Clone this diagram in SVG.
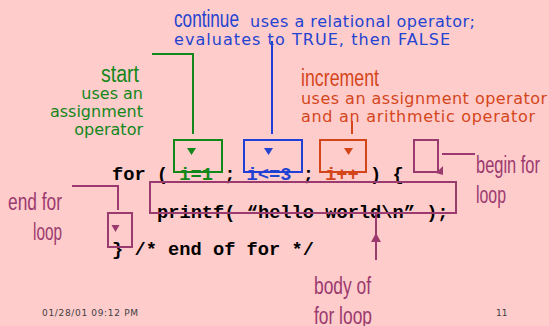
<svg xmlns="http://www.w3.org/2000/svg" width="549" height="326" viewBox="0 0 549 326">
<style>
.bg{fill:#FFCCCC}
.sans{font-family:"DejaVu Sans","Liberation Sans",sans-serif;font-size:16px}
.cond{font-family:"Liberation Sans","DejaVu Sans",sans-serif;font-size:23px}
.code{font-family:"Liberation Mono","DejaVu Sans Mono",monospace;font-size:18.7px;font-weight:bold;fill:#000}
.g{fill:#14871A}.b{fill:#2343D0}.o{fill:#D4461A}.p{fill:#9B3A6E}
.box{fill:none;stroke-width:2}
.gs{stroke:#14871A}.bs{stroke:#1F3FD6}.os{stroke:#D4461A}.ps{stroke:#9B3A6E}
.ln{fill:none;stroke-width:2}
.foot{font-family:"DejaVu Sans","Liberation Sans",sans-serif;font-size:9px;fill:#404040}
</style>
<rect class="bg" x="0" y="0" width="549" height="326"/>

<g id="code">
<text class="code" x="112" y="180" xml:space="preserve">for ( <tspan class="g">i=1</tspan> ; <tspan class="b">i&lt;=3</tspan> ; <tspan class="o">i++</tspan> ) {</text>
<text class="code" x="157" y="218" xml:space="preserve">printf( “hello world\n” );</text>
<text class="code" x="112" y="255" xml:space="preserve">} /* end of for */</text>
</g>

<g id="connectors">
<polyline class="ln gs" points="152,54 193,54 193,134"/>
<line class="ln bs" x1="272" y1="41" x2="272" y2="134"/>
<line class="ln os" x1="352" y1="121" x2="352" y2="134"/>
<line class="ln ps" x1="442" y1="154" x2="475" y2="154"/>
<polygon class="p" points="443,166 443,175 436,173"/>
<polyline class="ln ps" points="72,186 118,186 118,210"/>
<line class="ln ps" x1="376" y1="214" x2="376" y2="260"/>
<polygon class="p" points="376,233 371,242 381,242"/>
</g>

<g id="start-node">
<rect class="box gs" x="174" y="140" width="48" height="32"/>
<polygon class="g" points="187,148 196,148 191.5,155"/>
<text class="cond g" x="101" y="82" textLength="38" lengthAdjust="spacingAndGlyphs">start</text>
<text class="sans g" text-anchor="end" x="143" y="99">uses an</text>
<text class="sans g" text-anchor="end" x="143" y="117">assignment</text>
<text class="sans g" text-anchor="end" x="143" y="135">operator</text>
</g>

<g id="continue-node">
<rect class="box bs" x="244" y="140" width="58" height="32"/>
<polygon class="b" points="264,148 273,148 268.5,155"/>
<text class="cond b" x="174" y="27" font-size="21" textLength="65" lengthAdjust="spacingAndGlyphs">continue</text>
<text class="sans b" x="250" y="27" textLength="225">uses a relational operator;</text>
<text class="sans b" x="174" y="45" textLength="276">evaluates to TRUE, then FALSE</text>
</g>

<g id="increment-node">
<rect class="box os" x="320" y="140" width="46" height="32"/>
<polygon class="o" points="344,148 353,148 348.5,155"/>
<text class="cond o" x="301" y="86" font-size="22" textLength="78" lengthAdjust="spacingAndGlyphs">increment</text>
<text class="sans o" x="301" y="104" textLength="246">uses an assignment operator</text>
<text class="sans o" x="301" y="122" textLength="234">and an arithmetic operator</text>
</g>

<g id="begin-node">
<rect class="box ps" x="414" y="140" width="24" height="32"/>
<text class="cond p" x="476" y="173" font-size="25" textLength="64" lengthAdjust="spacingAndGlyphs">begin for</text>
<text class="cond p" x="476" y="203" font-size="25" textLength="30" lengthAdjust="spacingAndGlyphs">loop</text>
</g>

<g id="body-node">
<rect class="box ps" x="150" y="182" width="306" height="31"/>
<text class="cond p" x="314" y="294" textLength="57" lengthAdjust="spacingAndGlyphs">body of</text>
<text class="cond p" x="314" y="324" textLength="58" lengthAdjust="spacingAndGlyphs">for loop</text>
</g>

<g id="end-node">
<rect class="box ps" x="108" y="213" width="24" height="34"/>
<polygon class="p" points="111.5,225 119.5,225 115.5,232"/>
<text class="cond p" x="8" y="210" textLength="54" lengthAdjust="spacingAndGlyphs">end for</text>
<text class="cond p" x="33" y="240" textLength="29" lengthAdjust="spacingAndGlyphs">loop</text>
</g>

<g id="footer">
<text class="foot" x="42" y="316" textLength="96">01/28/01 09:12 PM</text>
<text class="foot" x="496" y="316">11</text>
</g>
</svg>
